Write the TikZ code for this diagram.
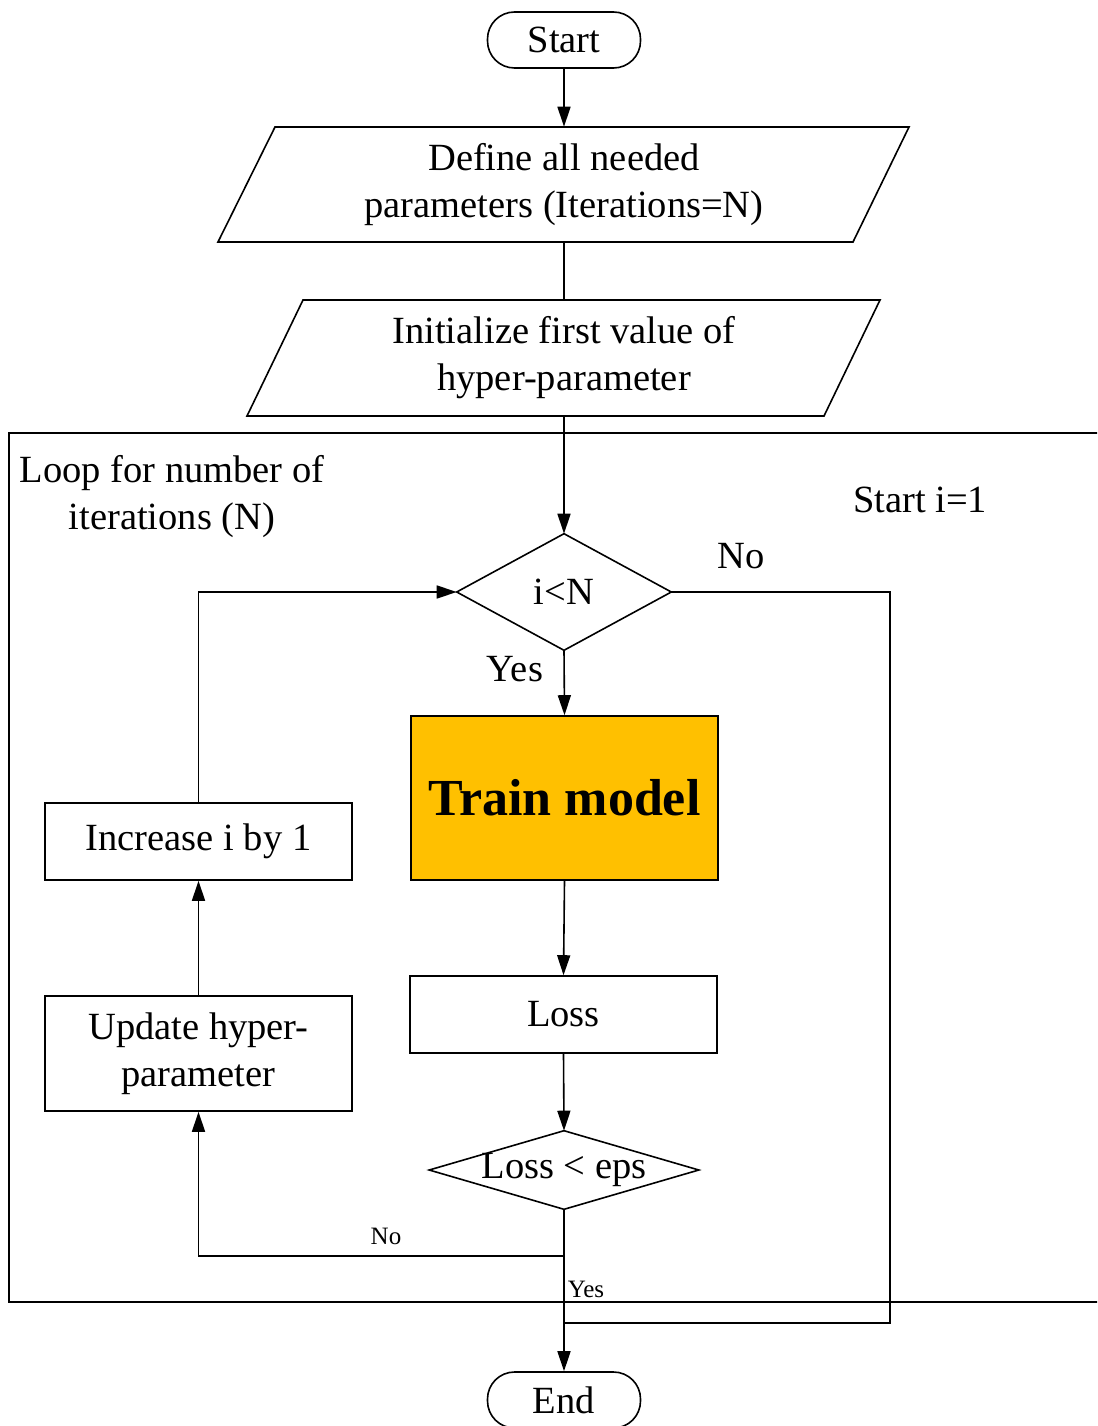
\documentclass[tikz,border=0pt]{standalone}
\usepackage{fontspec}
\setmainfont{Liberation Serif}
\usetikzlibrary{arrows.meta,calc}
\begin{document}
\begin{tikzpicture}[x=1pt,y=-1pt,
  line width=1.6pt,
  base/.style={font=\fontsize{38.5}{47}\selectfont, align=center, inner sep=0pt},
  terminal/.style={base, draw, rounded corners=27pt, minimum width=153pt, minimum height=56pt},
  procbox/.style={base, draw, minimum width=307pt},
  decision/.style={base, minimum width=#1},
  lbl/.style={base},
  small/.style={font=\fontsize{25}{29}\selectfont, inner sep=0pt},
  arr/.style={-{Triangle[length=20pt,width=13pt]}},
]
\useasboundingbox (0,0) rectangle (1097,1426);
\clip (0,0) rectangle (1097,1426);

% outer loop frame (runs past the right edge)
\draw (9,433) rectangle (1120,1302);

% terminals
\node[terminal] (start) at (564,40) {Start};
\node[terminal] (end) at (564,1400) {End};

% input parallelograms
\node[base, minimum height=115pt, minimum width=520pt] (define) at (564,185) {Define all needed\\parameters (Iterations=N)};
\draw (275,127) -- (909,127) -- (853,242) -- (218,242) -- cycle;
\node[base, minimum height=116pt, minimum width=460pt] (init) at (564,358) {Initialize first value of\\hyper-parameter};
\draw (303,300) -- (880,300) -- (824,416) -- (247,416) -- cycle;

% loop label texts
\node[lbl] (looplbl) at (172,497) {Loop for number of\\iterations (N)};
\node[lbl] (starti) at (920,500) {Start i=1};

% decisions: text nodes with the diamond outline drawn through their anchors
\node[decision=213pt, minimum height=115pt] (cond) at (564,592) {i\textless N};
\draw (cond.north) -- (cond.east) -- (cond.south) -- (cond.west) -- cycle;
\node[decision=268pt, minimum height=77pt] (conv) at (564,1170) {Loss \textless{} eps};
\draw (conv.north) -- (conv.east) -- (conv.south) -- (conv.west) -- cycle;

% process boxes
\node[procbox, minimum height=164pt, fill={rgb,255:red,255;green,192;blue,0},
      font=\fontsize{52}{60}\selectfont\bfseries] (train) at (564.5,798) {Train model};
\node[procbox, minimum height=77pt] (loss) at (563.5,1014.5) {Loss};
\node[procbox, minimum height=115pt] (update) at (198.5,1053.5) {Update hyper-\\parameter};
\node[procbox, minimum height=77pt] (incr) at (198.5,841.5) {Increase i by 1};

% labels on branches
\node[lbl] (noA) at (741,556) {No};
\node[lbl] (yesA) at (515,669) {Yes};
\node[small] (noB) at (386,1236) {No};
\node[small] (yesB) at (586,1289) {Yes};

% connectors
\draw[arr] (start) -- (define.north);
\draw (define.south) -- (init.north);
\draw[arr] (init.south) -- (cond.north);
\draw[arr] (cond.south) -- (train.north);
\draw[arr] (train.south) -- (loss.north);
\draw[arr] (loss.south) -- (conv.north);
\coordinate (nobend) at (564,1256);
\draw[arr] (conv.south) -- (nobend) -| (update.south);
\draw[arr] (update.north) -- (incr.south);
\draw[arr] (incr.north) |- (cond.west);
\coordinate (exitR) at (890,592);
\coordinate (exitB) at (890,1323);
\coordinate (exitJ) at (564,1323);
\draw (cond.east) -- (exitR) -- (exitB) -- (exitJ);
\draw[arr] (conv.south) -- (end.north);
\end{tikzpicture}
\end{document}
